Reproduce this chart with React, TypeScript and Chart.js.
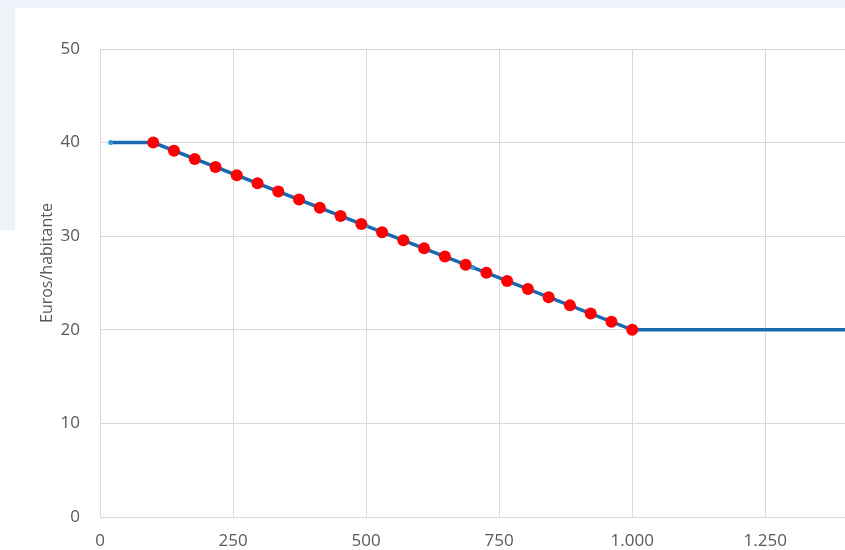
import React, { useEffect, useRef } from "react";
import { Chart, registerables } from "chart.js";

Chart.register(...registerables);

// Blue line (tramos)
const blueX = [20, 100, 500, 700, 1000, 1500];
const blueY = [40, 40, 31.11, 26.67, 20, 20];

// Red points
const redX = [100, 139, 178, 217, 257, 296, 335, 374, 413, 452, 491, 530, 570, 609, 648, 687, 726, 765, 804, 843, 883, 922, 961, 1000];
const redY = [40, 39.13, 38.26, 37.39, 36.52, 35.65, 34.78, 33.91, 33.04, 32.17, 31.3, 30.43, 29.57, 28.7, 27.83, 26.96, 26.09, 25.22, 24.35, 23.48, 22.61, 21.74, 20.87, 20];

const yTicks = [0, 10, 20, 30, 40, 50];
const xTicks = [0, 250, 500, 750, 1000, 1250, 1500];
const yTitle = "Euros/habitante";

const fmt = (v: number) => {
  const s = String(Math.round(v));
  return s.length > 3 ? s.slice(0, s.length - 3) + "." + s.slice(s.length - 3) : s;
};

const yTitlePlugin = {
  id: "yTitle",
  afterDraw(chart: any) {
    const ctx = chart.ctx;
    const area = chart.chartArea;
    ctx.save();
    ctx.translate(area.left - 53, area.top + 214);
    ctx.rotate(-Math.PI / 2);
    ctx.font = '16px "Open Sans"';
    ctx.fillStyle = "#595959";
    ctx.textAlign = "center";
    ctx.textBaseline = "middle";
    ctx.fillText(yTitle, 0, 0);
    ctx.restore();
  },
};

export default function App() {
  const ref = useRef<HTMLCanvasElement | null>(null);
  useEffect(() => {
    if (!ref.current) return;
    const grid = "#d9d9d9";
    const chart = new Chart(ref.current, {
      type: "scatter",
      data: {
        datasets: [
          {
            label: "puntos",
            data: redX.map((x, i) => ({ x, y: redY[i] })),
            showLine: false,
            pointRadius: 6,
            pointBackgroundColor: "#ff0000",
            pointBorderColor: "#ff0000",
            pointBorderWidth: 0,
            order: 0,
          },
          {
            label: "tramos",
            data: blueX.map((x, i) => ({ x, y: blueY[i] })),
            showLine: true,
            borderColor: "#1a68b0",
            borderWidth: 3.5,
            pointRadius: 2.5,
            pointBackgroundColor: "#2e95db",
            pointBorderColor: "#2e95db",
            pointBorderWidth: 0,
            order: 1,
          },
        ],
      },
      options: {
        responsive: false,
        maintainAspectRatio: false,
        animation: false,
        devicePixelRatio: 1,
        layout: { padding: { left: 0, top: 49, right: 32, bottom: 0 } },
        plugins: { legend: { display: false }, tooltip: { enabled: false } },
        scales: {
          x: {
            type: "linear",
            min: 0,
            max: 1500,
            afterBuildTicks: (s: any) => {
              s.ticks = xTicks.map((v) => ({ value: v }));
            },
            afterFit: (s: any) => {
              s.height = 33;
            },
            grid: { color: grid, lineWidth: 1, drawTicks: false },
            border: { color: grid, width: 1 },
            ticks: {
              padding: 14,
              color: "#595959",
              font: { family: "Open Sans", size: 17 },
              callback: (v: any) => fmt(Number(v)),
            },
          },
          y: {
            type: "linear",
            min: 0,
            max: 50,
            afterBuildTicks: (s: any) => {
              s.ticks = yTicks.map((v) => ({ value: v }));
            },
            afterFit: (s: any) => {
              s.width = 100;
            },
            grid: { color: grid, lineWidth: 1, drawTicks: false },
            border: { color: grid, width: 1 },
            ticks: {
              padding: 20,
              color: "#595959",
              font: { family: "Open Sans", size: 17 },
              callback: (v: any) => fmt(Number(v)),
            },
          },
        },
      },
      plugins: [yTitlePlugin],
    });
    return () => chart.destroy();
  }, []);

  return (
    <div
      style={{
        position: "fixed",
        left: 0,
        top: 0,
        width: 845,
        height: 550,
        overflow: "hidden",
        background: "#ffffff",
      }}
    >
      <div style={{ position: "absolute", left: 0, top: 0, width: 845, height: 8, background: "#eef2f9" }} />
      <div style={{ position: "absolute", left: 0, top: 0, width: 15, height: 230, background: "#eef2f9" }} />
      <canvas
        ref={ref}
        width={934}
        height={550}
        style={{ position: "absolute", left: 0, top: 0, width: 934, height: 550 }}
      />
    </div>
  );
}
